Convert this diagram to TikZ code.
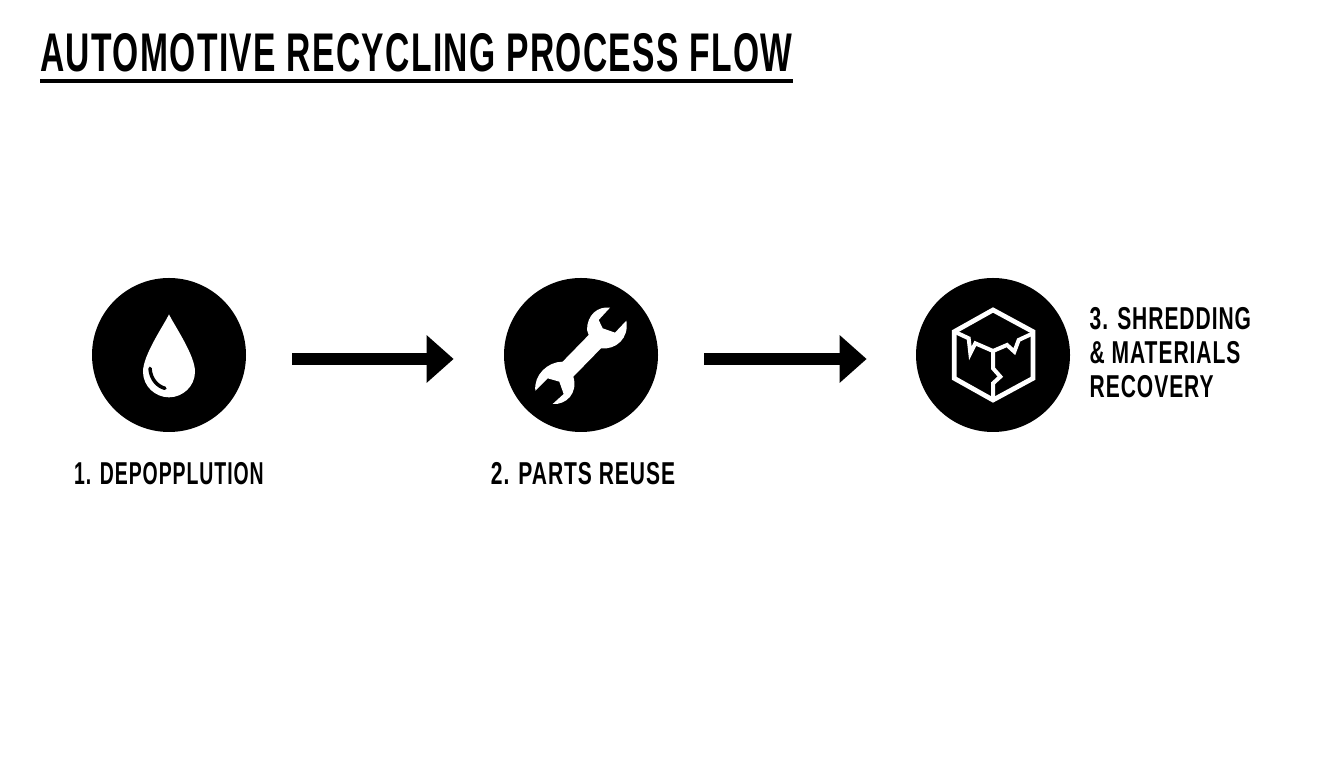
\documentclass[tikz,border=0pt]{standalone}
\usepackage{fontspec}
\setmainfont{Liberation Sans}[FakeStretch=0.617,LetterSpace=2.5]
\newfontfamily\labelfont{Liberation Sans Bold}[FakeStretch=0.665,LetterSpace=3]
\newfontfamily\tightfont{Liberation Sans Bold}[FakeStretch=0.615,LetterSpace=3]
\usetikzlibrary{calc,positioning,arrows.meta}
\tikzset{
	stage/.style={circle, fill=black, minimum size=3.08cm, inner sep=0pt},
	stagelabel/.style={font=\labelfont\fontsize{18}{19.3}\selectfont, inner sep=0pt},
	flow/.style={-{Triangle[length=0.54cm,width=0.92cm]}, line width=0.246cm},
}

\begin{document}
\begin{tikzpicture}
        \useasboundingbox (0,0) rectangle (26.88,15.36);
        \node[anchor=base west, inner sep=0pt, font=\bfseries\fontsize{31}{36}\selectfont] (title) at (0.8,13.92) {AUTOMOTIVE RECYCLING PROCESS FLOW};
        \draw[line width=0.07cm] ([yshift=-0.18cm]title.base west) -- ([yshift=-0.18cm]title.base east);

        \node[stage] (drop) at (3.38,8.26) {};
        \node[stage] (wrench) at (11.62,8.26) {};
        \node[stage] (cube) at (19.86,8.26) {};

        \node[stagelabel, below=0.6cm of drop, font=\tightfont\fontsize{18}{19.3}\selectfont] (droplabel) {1. DEPOPPLUTION};
        \node[stagelabel, below=0.6cm of wrench, xshift=0.04cm] (wrenchlabel) {2. PARTS REUSE};
        \node[stagelabel, align=left, right=0.38cm of cube, yshift=0.04cm] (cubelabel) {3. SHREDDING\\\& MATERIALS\\RECOVERY};

        \draw[flow, shorten <=0.92cm, shorten >=1cm] ([yshift=-0.08cm]drop.east) -- ([yshift=-0.08cm]wrench.west);
        \draw[flow, shorten <=0.92cm, shorten >=0.98cm] ([yshift=-0.08cm]wrench.east) -- ([yshift=-0.08cm]cube.west);

        % drop
        \begin{scope}[shift={(drop.center)}, x=0.00667cm, y=-0.00667cm]
            \fill[white] (0,-122) .. controls (-15,-90) and (-78,0) .. (-78,50) .. controls (-78,95) and (-40,127) .. (0,127) .. controls (40,127) and (78,95) .. (78,50) .. controls (78,0) and (15,-90) .. cycle;
            \draw[line width=0.07cm, line cap=round] (-57,40) .. controls (-55,75) and (-32,95) .. (-12,100);
        \end{scope}

        % wrench
        \begin{scope}[shift={(wrench.center)}, x=0.00667cm, y=-0.00667cm]
            \fill[white] (87,-142) .. controls (50,-147) and (18,-120) .. (18,-75) -- (23,-60) -- (-55,20)
                .. controls (-100,20) and (-142,60) .. (-137,107) -- (-100,70) -- (-65,80) -- (-52,117) -- (-85,147)
                .. controls (-45,150) and (-8,115) .. (-23,65) -- (60,-20)
                .. controls (105,-15) and (145,-50) .. (136,-103) -- (102,-67) -- (65,-80) -- (53,-105) -- cycle;
        \end{scope}

        % cube
        \begin{scope}[shift={(cube.center)}, x=0.00667cm, y=-0.00667cm, white, line width=0.095cm, line join=miter]
            \draw (0,-135) -- (120,-70) -- (120,70) -- (0,135) -- (-116,70) -- (-116,-70) -- cycle;
            \draw[line width=0.08cm] (-116,-70) -- (-73,-50) -- (-68,-5) -- (-53,-35) -- (0,-12) -- (42,-30) -- (64,-10) -- (77,-45) -- (120,-65);
            \draw[line width=0.08cm] (0,-12) -- (0,40) -- (22,65) -- (0,85) -- (0,135);
        \end{scope}
\end{tikzpicture}
\end{document}
